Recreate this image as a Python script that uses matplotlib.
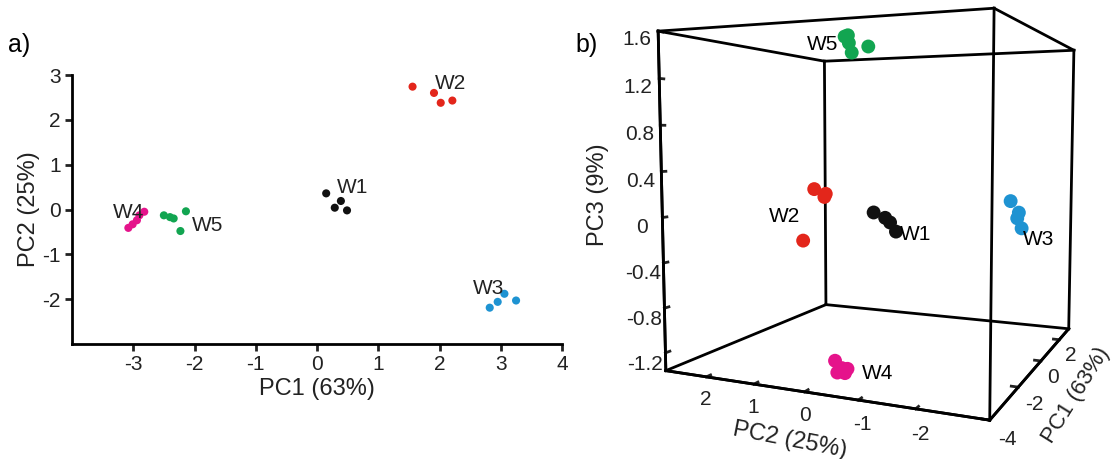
import itertools
import numpy as np
import matplotlib.pyplot as plt

plt.rcParams['font.family'] = ['Liberation Sans', 'DejaVu Sans']
plt.rcParams['axes.unicode_minus'] = False

# group names and colours
groups = ['W1', 'W2', 'W3', 'W4', 'W5']
colors = ['#111111', '#e3261b', '#1e93d2', '#e5138b', '#12a551']

# PCA scores (PC1, PC2, PC3 per sample)
w1_pc1 = [0.15, 0.39, 0.29, 0.49]
w1_pc2 = [0.36, 0.19, 0.04, -0.02]
w1_pc3 = [-0.06, -0.12, -0.16, -0.26]

w2_pc1 = [1.56, 1.91, 2.02, 2.21]
w2_pc2 = [2.74, 2.60, 2.38, 2.43]
w2_pc3 = [-0.48, 0.10, 0.01, 0.04]

w3_pc1 = [2.82, 2.95, 3.06, 3.25]
w3_pc2 = [-2.19, -2.06, -1.88, -2.03]
w3_pc3 = [-0.28, -0.18, 0.00, -0.13]

w4_pc1 = [-3.08, -3.01, -2.94, -2.90, -2.82]
w4_pc2 = [-0.41, -0.33, -0.24, -0.13, -0.05]
w4_pc3 = [-1.25, -1.30, -1.27, -1.32, -1.23]

w5_pc1 = [-2.50, -2.40, -2.34, -2.14, -2.23]
w5_pc2 = [-0.13, -0.17, -0.20, -0.04, -0.48]
w5_pc3 = [1.55, 1.50, 1.42, 1.58, 1.47]

pc1 = [w1_pc1, w2_pc1, w3_pc1, w4_pc1, w5_pc1]
pc2 = [w1_pc2, w2_pc2, w3_pc2, w4_pc2, w5_pc2]
pc3 = [w1_pc3, w2_pc3, w3_pc3, w4_pc3, w5_pc3]

# label anchors in panel a (data coords)
label_a_x = [0.33, 1.93, 2.55, -3.34, -2.04]
label_a_y = [0.50, 2.81, -1.76, -0.07, -0.35]

xticks_a = [-3, -2, -1, 0, 1, 2, 3, 4]
yticks_a = [-2, -1, 0, 1, 2, 3]

pc1_ticks = [-4, -2, 0, 2]
pc2_ticks = [2, 1, 0, -1, -2]
pc3_ticks = [1.6, 1.2, 0.8, 0.4, 0, -0.4, -0.8, -1.2]
pc3_ticklabels = ['1.6', '1.2', '0.8', '0.4', '0', '-0.4', '-0.8', '-1.2']

W, H = 1115, 459
fig = plt.figure(figsize=(W / 100, H / 100), dpi=100)

# ---- panel a: PC1 vs PC2 ----
ax = fig.add_axes([72 / W, 115 / H, 490 / W, 269 / H])
for i, g in enumerate(groups):
    ax.scatter(pc1[i], pc2[i], s=34, color=colors[i], edgecolors='none', zorder=3)
    ax.text(label_a_x[i], label_a_y[i], g, fontsize=15, ha='left', va='center', color='#222222')
ax.set_xlim(-4, 4)
ax.set_ylim(-3, 3)
ax.set_xticks(xticks_a)
ax.set_yticks(yticks_a)
ax.spines['top'].set_visible(False)
ax.spines['right'].set_visible(False)
for s in ('left', 'bottom'):
    ax.spines[s].set_linewidth(2)
ax.tick_params(width=2, length=5, labelsize=15, pad=3, colors='#222222')
ax.set_xlabel('PC1 (63%)', fontsize=17, labelpad=3, color='#222222')
ax.set_ylabel('PC2 (25%)', fontsize=17, labelpad=2, color='#222222')
fig.text(8 / W, 1 - 45 / H, 'a)', fontsize=18, va='center')
fig.text(575 / W, 1 - 45 / H, 'b)', fontsize=18, va='center')

# ---- panel b: 3D scores ----
ax3 = fig.add_axes([622 / W, -3 / H, 516 / W, 516 / H], projection='3d', computed_zorder=False)
ax3.set_proj_type('persp', focal_length=0.28)
ax3.view_init(elev=4.5, azim=-156)
ax3.set_box_aspect((1, 1, 1))
ax3.set_xlim(-4, 3.2)
ax3.set_ylim(-3.2, 2.9)
ax3.set_zlim(-1.36, 1.6)
ax3.grid(False)
for axis in (ax3.xaxis, ax3.yaxis, ax3.zaxis):
    axis.set_pane_color((1, 1, 1, 0))
    axis.line.set_linewidth(2)
    axis._axinfo['tick']['inward_factor'] = 0
    axis._axinfo['tick']['outward_factor'] = 0.25
    axis._axinfo['tick']['linewidth'] = {True: 2, False: 1}

# box edges from the axis limits
lims = [ax3.get_xlim(), ax3.get_ylim(), ax3.get_zlim()]
corners = list(itertools.product(*lims))
for a, b in itertools.combinations(corners, 2):
    if sum(p != q for p, q in zip(a, b)) == 1:
        ax3.plot(*zip(a, b), color='black', lw=2, zorder=1)

for i, g in enumerate(groups):
    ax3.scatter(pc1[i], pc2[i], pc3[i], s=100, color=colors[i], edgecolors='none',
                depthshade=False, alpha=1, zorder=3)

ax3.text(np.mean(w5_pc1), np.mean(w5_pc2) + 0.6, np.mean(w5_pc3), 'W5', fontsize=15, ha='center', va='center')
ax3.text(np.mean(w2_pc1), np.mean(w2_pc2) + 0.9, np.mean(w2_pc3) - 0.15, 'W2', fontsize=15, ha='center', va='center')
ax3.text(np.mean(w1_pc1), np.mean(w1_pc2) - 0.65, np.mean(w1_pc3) - 0.12, 'W1', fontsize=15, ha='center', va='center')
ax3.text(np.mean(w3_pc1), np.mean(w3_pc2) - 0.5, np.mean(w3_pc3) - 0.25, 'W3', fontsize=15, ha='center', va='center')
ax3.text(np.mean(w4_pc1), np.mean(w4_pc2) - 0.7, np.mean(w4_pc3), 'W4', fontsize=15, ha='center', va='center')

ax3.set_xticks(pc1_ticks)
ax3.set_yticks(pc2_ticks)
ax3.set_zticks(pc3_ticks, labels=pc3_ticklabels)
ax3.tick_params(axis='x', labelsize=15, pad=-4, colors='#222222')
ax3.tick_params(axis='y', labelsize=15, pad=-2, colors='#222222')
ax3.tick_params(axis='z', labelsize=15, pad=0, colors='#222222')
for t in ax3.xaxis.get_majorticklabels() + ax3.yaxis.get_majorticklabels():
    t.set_horizontalalignment('left')

# axis titles of the 3D panel
fig.text(598 / W, 1 - 195 / H, 'PC3 (9%)', fontsize=17, rotation=90, ha='center', va='center', color='#222222')
fig.text(790 / W, 1 - 440 / H, 'PC2 (25%)', fontsize=17, rotation=-11, ha='center', va='center', color='#222222')
fig.text(1076 / W, 1 - 395 / H, 'PC1 (63%)', fontsize=16, rotation=58, ha='center', va='center', color='#222222')

fig.savefig('out.png', dpi=100)
